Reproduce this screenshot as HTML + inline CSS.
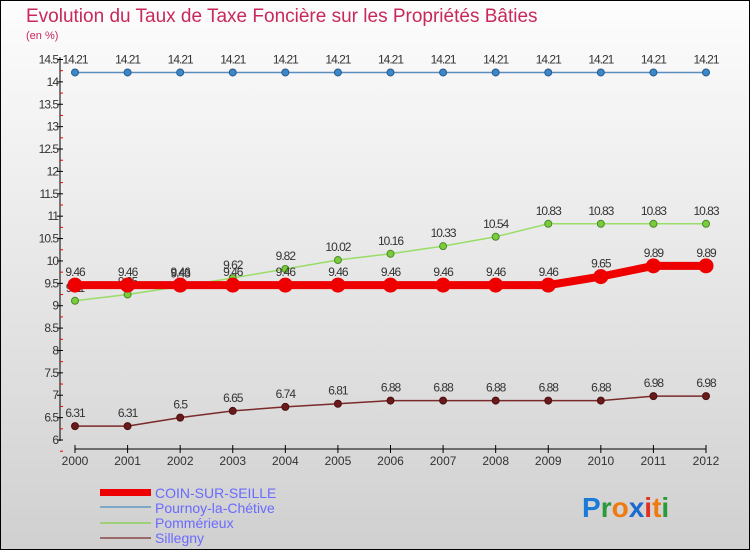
<!DOCTYPE html>
<html><head><meta charset="utf-8"><style>
body{margin:0;}
#c{position:relative;width:750px;height:550px;font-family:"Liberation Sans",sans-serif;}
</style></head><body>
<div id="c">
<svg id="s" width="750" height="550" xmlns="http://www.w3.org/2000/svg">
<defs><linearGradient id="bg" x1="0" y1="0" x2="0" y2="1"><stop offset="0" stop-color="#fdfdfd"/><stop offset="1" stop-color="#d0d0d0"/></linearGradient></defs>
<rect x="0.5" y="0.5" width="749" height="549" fill="url(#bg)" stroke="#000"/>
<text x="26" y="22" font-size="19" fill="#c8285a">Evolution du Taux de Taxe Foncière sur les Propriétés Bâties</text>
<text x="26" y="39" font-size="11" fill="#c8285a">(en %)</text>
<g id="axes"></g><g id="series"></g>
<g>
<rect x="100" y="489" width="51" height="7" fill="#e00"/>
<text x="155" y="498" font-size="14" fill="#6a6aff">COIN-SUR-SEILLE</text>
<rect x="100" y="506" width="51" height="2" fill="#7ea8c8"/>
<text x="155" y="513" font-size="14" fill="#6a6aff">Pournoy-la-Chétive</text>
<rect x="100" y="522" width="51" height="2" fill="#9ed07a"/>
<text x="155" y="528" font-size="14" fill="#6a6aff">Pommérieux</text>
<rect x="100" y="537" width="51" height="2" fill="#9a6a6a"/>
<text x="155" y="543" font-size="14" fill="#6a6aff">Sillegny</text>
</g>
<g font-size="28" font-weight="bold">
<text x="582" y="517"><tspan fill="#1a7ad8">P</tspan><tspan fill="#2a9a3a">r</tspan><tspan fill="#f07a10">o</tspan><tspan fill="#1a6ad0">x</tspan><tspan fill="#e03020">i</tspan><tspan fill="#f07a10">t</tspan><tspan fill="#2a9a3a">i</tspan></text>
</g>
</svg>
</div>
<script>
const years=["2000","2001","2002","2003","2004","2005","2006","2007","2008","2009","2010","2011","2012"];
const coin=[9.46,9.46,9.46,9.46,9.46,9.46,9.46,9.46,9.46,9.46,9.65,9.89,9.89];
const pournoy=[14.21,14.21,14.21,14.21,14.21,14.21,14.21,14.21,14.21,14.21,14.21,14.21,14.21];
const pommerieux=[9.11,9.25,9.43,9.62,9.82,10.02,10.16,10.33,10.54,10.83,10.83,10.83,10.83];
const sillegny=[6.31,6.31,6.5,6.65,6.74,6.81,6.88,6.88,6.88,6.88,6.88,6.98,6.98];
const yTicks=[6,6.5,7,7.5,8,8.5,9,9.5,10,10.5,11,11.5,12,12.5,13,13.5,14,14.5];
const NS="http://www.w3.org/2000/svg";
function X(i){return 75+i*(706-75)/(years.length-1);}
function Y(v){return 440-(v-6)*(440-59.5)/8.5;}
function mk(t,a,p){const e=document.createElementNS(NS,t);for(const k in a)e.setAttribute(k,a[k]);p.appendChild(e);return e;}
const ax=document.getElementById('axes');
const yl=mk('line',{x1:60,y1:57,x2:60,y2:441,stroke:'#000'},ax);


yTicks.forEach(v=>{
 const y=Y(v);
 mk('line',{x1:57,y1:y,x2:63,y2:y,stroke:'#000'},ax);
 const r=mk('line',{x1:60,y1:y+11.2,x2:63,y2:y+11.2,stroke:'#e00'},ax);
 const t=mk('text',{x:58,y:y+4,'font-size':12,'text-anchor':'end',fill:'#333','letter-spacing':'-1'},ax);
 t.textContent=String(v);
 
 
});
const xl=mk('line',{x1:75,y1:449,x2:706,y2:449,stroke:'#000'},ax);


years.forEach((yr,i)=>{
 mk('line',{x1:X(i),y1:445,x2:X(i),y2:453,stroke:'#000'},ax);
 const t=mk('text',{x:X(i),y:465,'font-size':12,'text-anchor':'middle',fill:'#333'},ax);
 t.textContent=yr;
 
 
});
const sg=document.getElementById('series');
function draw(vals,name,color,lw,r,dot,dotStroke){
 const g=mk('g',{},sg);
 
 
 const pl=mk('polyline',{points:vals.map((v,i)=>X(i)+','+Y(v)).join(' '),fill:'none',stroke:color,'stroke-width':lw,'stroke-linejoin':'round'},g);
 
 
 vals.forEach((v,i)=>{
  const c=mk('circle',{cx:X(i),cy:Y(v),r:r,fill:dot,stroke:dotStroke,'stroke-width':1},g);
  
  
  const t=mk('text',{x:X(i),y:Y(v)-9,'font-size':12,'text-anchor':'middle',fill:'#333','letter-spacing':'-1'},g);
  t.textContent=String(v);
  
  
 });
}
draw(pournoy,'pournoy','#5a8ec0',1.5,3.5,'#3a88cc','#2a5a8a');
draw(sillegny,'sillegny','#7a2a2a',1.5,3.5,'#6a1a1a','#4a1010');
draw(pommerieux,'pommerieux','#99dd66',1.5,3.5,'#7acc3a','#4a8a2a');
draw(coin,'coin','#ee0000',8,7,'#ee0000','#ee0000');
</script>
</body></html>
